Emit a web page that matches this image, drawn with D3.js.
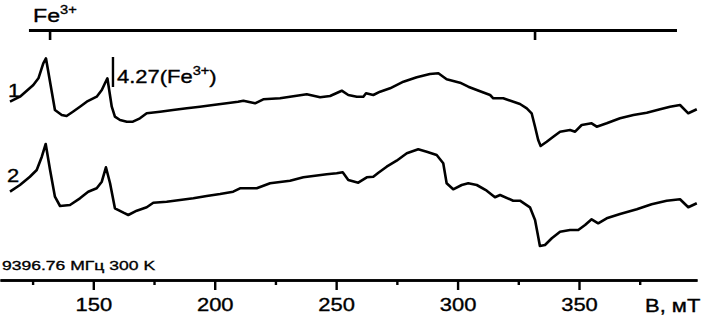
<!DOCTYPE html>
<html><head><meta charset="utf-8">
<script src="https://cdn.jsdelivr.net/npm/d3@7"></script>
<style>
html,body{margin:0;padding:0;background:#fff;}
svg{display:block;font-family:"Liberation Sans",Arial,sans-serif;}
svg text{fill:#000;stroke:#000;stroke-width:0.35px;}
</style></head>
<body>
<svg id="c" width="701" height="315"></svg>
<script>
// Magnetic field B (mT) and signal (arbitrary units)
const field1 = [115.7,119.8,125.3,127.4,129.4,130.5,134.2,137.0,139.0,141.6,144.5,147.3,151.4,153.5,154.8,155.8,157.6,158.9,161.0,163.8,166.3,169.2,172.0,177.5,182.8,188.5,193.9,199.3,204.9,209.6,211.8,216.6,220.0,226.9,231.0,237.9,243.4,247.5,252.3,255.0,258.5,261.2,262.3,265.3,268.1,272.2,277.7,283.2,288.6,292.1,295.5,301.0,304.4,307.9,313.4,314.7,318.8,325.7,328.5,330.5,331.9,333.2,334.2,336.7,339.4,342.2,346.3,348.4,351.1,355.2,357.3,361.4,366.9,372.4,377.9,383.4,387.5,391.6,395.0,398.5];
const signal1 = [178.3,183.3,195,201.7,216.7,221.7,170,165,164,168.3,173.3,178.3,183.3,190,196.7,201.7,173.3,163.3,160,158.3,158.3,161.7,166.7,168.3,170,171.7,173.3,175,176.7,178.3,179.3,176.7,180.7,181.7,183.3,185.7,182.7,184,189.3,185,183.3,183.3,186.7,185,188.3,191.7,198.3,202.7,206,206.7,200.7,197.3,193.3,190,185,181.7,181.7,176,171.7,166.7,153.3,140,134,138.3,143.3,148.3,150,148.3,155,156.7,153.3,156.7,161.7,165,167.3,170.7,173.3,175,166.7,170.7];
const field2 = [115.7,119.8,123.9,126.7,128.8,130.4,132.2,134.2,136.3,140.4,144.5,147.9,151.4,153.5,155.2,156.9,158.9,162.4,164.4,167.9,172.0,174.7,180.2,185.7,191.2,196.7,202.2,207.6,210.4,217.3,222.8,231.0,236.5,246.1,250.2,252.7,255.0,259.1,262.6,265.3,267.4,270.8,274.9,279.1,283.8,287.3,291.4,294.1,295.5,298.2,301.7,304.4,307.9,312.0,315.4,317.5,322.9,325.7,329.8,331.9,333.2,333.9,336.0,338.8,342.2,346.3,349.7,352.5,355.2,357.9,361.4,366.9,373.8,379.9,386.1,391.6,395.0,398.5];
const signal2 = [88.3,95,103.3,110,123.3,136,110,83.3,74,75,81.7,88.3,91.7,98.3,112.7,96.7,71.7,67.3,65,69.3,72.7,77.3,78.3,80,81.7,84,86,88.3,91.7,91.7,96.7,99.3,102.7,105.7,106.7,107.7,100,97.3,102.7,103.3,107.3,113.3,119.3,126.7,130.7,128.3,125,116.7,96.7,90.7,95,96.7,95,89.3,82.7,85,79.3,79.3,72.7,60,43.3,34,35,41.7,48.3,50,50,55,60.7,56.7,61.7,66,70.7,75.7,79.3,80.7,72.7,76.7];
const majorTicks = [150,200,250,300,350];
const minorTicks = [125,175,225,275,325,375];
const topTicks = [132.2,331.9];
const topRange = [123.5,390.35];
const markerField = 158.1;
const seriesLabels = ["1","2"];

const svg = d3.select("#c");
const x = d3.scaleLinear().domain([111.58,398.59]).range([0,697]);
const y = d3.scaleLinear().domain([0,280]).range([280,0]);
const SX = 1.22; // horizontal stretch of the original lettering

// bottom axis
const axisY = 280;
const gMinor = svg.append("g").attr("transform",`translate(0,${axisY})`)
  .call(d3.axisBottom(x).tickValues(minorTicks).tickSize(5).tickSizeOuter(0).tickFormat(""));
const gMajor = svg.append("g").attr("transform",`translate(0,${axisY})`)
  .call(d3.axisBottom(x).tickValues(majorTicks).tickSize(10).tickSizeOuter(0).tickFormat(d3.format("d")));
[gMinor,gMajor].forEach(g=>{
  g.select(".domain").attr("stroke","#000").attr("stroke-width",2.6);
  g.selectAll(".tick line").attr("stroke","#000").attr("stroke-width",2.4);
});
gMajor.selectAll(".tick text").attr("y",31.5).attr("dy",0).attr("fill","#000")
  .attr("font-size",18).attr("font-family","Liberation Sans, Arial, sans-serif")
  .attr("transform",`scale(${SX},1)`);

svg.append("text").attr("transform",`translate(645,311.5) scale(${SX},1)`)
  .attr("font-size",18).text("B, мТ");

svg.append("text").attr("transform",`translate(2,270) scale(1.3,1)`)
  .attr("font-size",13.5).text("9396.76 МГц 300 K");

// top g-marker axis
svg.append("line").attr("x1",x(topRange[0])).attr("x2",x(topRange[1]))
  .attr("y1",30.5).attr("y2",30.5).attr("stroke","#000").attr("stroke-width",2.8);
svg.selectAll("line.tt").data(topTicks).join("line").attr("class","tt")
  .attr("x1",d=>x(d)).attr("x2",d=>x(d)).attr("y1",30).attr("y2",40)
  .attr("stroke","#000").attr("stroke-width",2.6);
const fe = svg.append("text").attr("transform",`translate(33,21.5) scale(${SX},1)`).attr("font-size",19);
fe.append("tspan").text("Fe");
fe.append("tspan").attr("font-size",12).attr("dy",-8).text("3+");

// g = 4.27 marker
svg.append("line").attr("x1",x(markerField)).attr("x2",x(markerField))
  .attr("y1",57).attr("y2",87).attr("stroke","#000").attr("stroke-width",2.4);
const mk = svg.append("text").attr("transform",`translate(117,83) scale(${SX},1)`).attr("font-size",18);
mk.append("tspan").text("4.27(Fe");
mk.append("tspan").attr("font-size",12).attr("dy",-8).text("3+");
mk.append("tspan").attr("dy",8).text(")");

// spectra
const line = d3.line().x(d=>x(d[0])).y(d=>y(d[1]));
const s1 = field1.map((b,i)=>[b,signal1[i]]);
const s2 = field2.map((b,i)=>[b,signal2[i]]);
[s1,s2].forEach(s=>{
  svg.append("path").datum(s).attr("d",line).attr("fill","none")
    .attr("stroke","#000").attr("stroke-width",2.6).attr("stroke-linejoin","round");
});

// series labels
svg.append("text").attr("transform",`translate(8,97) scale(${SX},1)`).attr("font-size",18).text(seriesLabels[0]);
svg.append("text").attr("transform",`translate(7,182) scale(${SX},1)`).attr("font-size",18).text(seriesLabels[1]);
</script>
</body></html>
